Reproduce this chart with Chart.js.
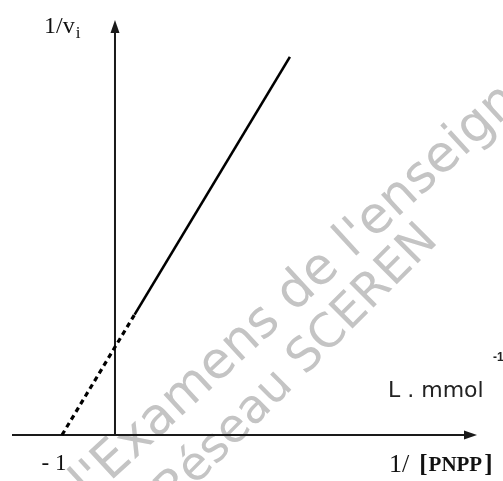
<!DOCTYPE html>
<html>
<head>
<meta charset="utf-8">
<script src="https://cdn.jsdelivr.net/npm/chart.js@4/dist/chart.umd.min.js"></script>
<style>
html,body{margin:0;padding:0;background:#fff;}
#wrap{width:503px;height:481px;position:relative;}
</style>
</head>
<body>
<div id="wrap"><canvas id="c"></canvas></div>
<script>
// Lineweaver-Burk line (1/[PNPP] vs 1/vi)
const lineX = [-1, 0.37, 3.3];
const lineY = [0, 1.37, 4.3];
const xTickLabel = '- 1';
const xTickValue = -1;
const yAxisTitle = ['1/v', 'i'];
const xAxisTitle = ['1/', '[', 'PNPP', ']'];
const unitLabel = ['L . mmol', '-1'];
const watermark = [["l'", "Examens de l'enseignement"], ['Réseau ', 'SCEREN']];

const points = lineX.map((x, i) => ({x: x, y: lineY[i]}));

function wmLine(ctx, pre, main, ax, ay, deg) {
  const r = deg * Math.PI / 180;
  const w = ctx.measureText(pre).width;
  ctx.save();
  ctx.translate(ax - w * Math.cos(r), ay + w * Math.sin(r));
  ctx.rotate(-r);
  ctx.fillText(pre + main, 0, 0);
  ctx.restore();
}

const decor = {
  id: 'decor',
  beforeDraw(chart) {
    const ctx = chart.ctx;
    ctx.save();
    ctx.fillStyle = '#fff';
    ctx.fillRect(0, 0, chart.width, chart.height);
    ctx.fillStyle = '#c4c4c4';
    ctx.textBaseline = 'alphabetic';
    ctx.textAlign = 'left';
    ctx.font = '51px "DejaVu Sans", sans-serif';
    wmLine(ctx, watermark[0][0], watermark[0][1], 110, 482, 42.6);
    ctx.font = '47px "DejaVu Sans", sans-serif';
    wmLine(ctx, watermark[1][0], watermark[1][1], 305, 376, 45);
    ctx.restore();
  },
  beforeDatasetsDraw(chart) {
    const ctx = chart.ctx;
    const xs = chart.scales.x, ys = chart.scales.y, a = chart.chartArea;
    const x0 = xs.getPixelForValue(0), y0 = ys.getPixelForValue(0);
    ctx.save();
    ctx.strokeStyle = '#1a1a1a';
    ctx.fillStyle = '#1a1a1a';
    ctx.lineWidth = 2;
    ctx.beginPath();
    ctx.moveTo(a.left, y0);
    ctx.lineTo(a.right - 8, y0);
    ctx.stroke();
    ctx.beginPath();
    ctx.moveTo(a.right, y0);
    ctx.lineTo(a.right - 13, y0 - 4.5);
    ctx.lineTo(a.right - 13, y0 + 4.5);
    ctx.closePath();
    ctx.fill();
    ctx.beginPath();
    ctx.moveTo(x0, y0);
    ctx.lineTo(x0, a.top + 8);
    ctx.stroke();
    ctx.beginPath();
    ctx.moveTo(x0, a.top);
    ctx.lineTo(x0 - 4.5, a.top + 13);
    ctx.lineTo(x0 + 4.5, a.top + 13);
    ctx.closePath();
    ctx.fill();
    ctx.restore();
  },
  afterDraw(chart) {
    const ctx = chart.ctx;
    const xs = chart.scales.x, ys = chart.scales.y;
    const y0 = ys.getPixelForValue(0);
    ctx.save();
    ctx.fillStyle = '#111';
    ctx.textBaseline = 'alphabetic';
    ctx.textAlign = 'left';
    // 1/vi
    ctx.font = '24px "Liberation Serif", serif';
    ctx.fillText(yAxisTitle[0], 44, 33);
    const w1 = ctx.measureText(yAxisTitle[0]).width;
    ctx.font = '17px "Liberation Serif", serif';
    ctx.fillText(yAxisTitle[1], 45 + w1, 38);
    // -1 tick
    ctx.font = '23px "Liberation Serif", serif';
    ctx.textAlign = 'center';
    ctx.fillText(xTickLabel, xs.getPixelForValue(xTickValue) - 8, y0 + 35);
    // x axis title
    ctx.textAlign = 'left';
    let x = 389;
    const by = y0 + 37;
    ctx.font = '26px "Liberation Serif", serif';
    ctx.fillText(xAxisTitle[0], x, by); x += ctx.measureText(xAxisTitle[0]).width + 10;
    ctx.font = 'bold 25px "Liberation Serif", serif';
    ctx.fillText(xAxisTitle[1], x, by); x += ctx.measureText(xAxisTitle[1]).width + 1;
    ctx.font = 'bold 21px "Liberation Serif", serif';
    ctx.fillText(xAxisTitle[2], x, by - 1); x += ctx.measureText(xAxisTitle[2]).width + 2;
    ctx.font = 'bold 25px "Liberation Serif", serif';
    ctx.fillText(xAxisTitle[3], x, by);
    // unit label
    ctx.font = '22px "DejaVu Sans", sans-serif';
    ctx.fillStyle = '#222';
    ctx.fillText(unitLabel[0], 388, y0 - 38);
    ctx.font = 'bold 12px "Liberation Sans", sans-serif';
    ctx.fillText(unitLabel[1], 493, y0 - 74);
    ctx.restore();
  }
};

new Chart(document.getElementById('c'), {
  type: 'scatter',
  data: {
    datasets: [{
      data: points,
      showLine: true,
      borderColor: '#000',
      borderWidth: 2.6,
      pointRadius: 0,
      segment: {
        borderDash: ctx => ctx.p0DataIndex === 0 ? [5, 4] : undefined,
        borderWidth: ctx => ctx.p0DataIndex === 0 ? 3.2 : 2.6
      }
    }]
  },
  options: {
    responsive: true,
    maintainAspectRatio: false,
    animation: false,
    layout: {padding: {left: 12, right: 26, top: 20, bottom: 11}},
    plugins: {legend: {display: false}, tooltip: {enabled: false}},
    scales: {
      x: {type: 'linear', display: false, min: -1.943, max: 6.83},
      y: {type: 'linear', display: false, min: -0.398, max: 4.72}
    }
  },
  plugins: [decor]
});
</script>
</body>
</html>
